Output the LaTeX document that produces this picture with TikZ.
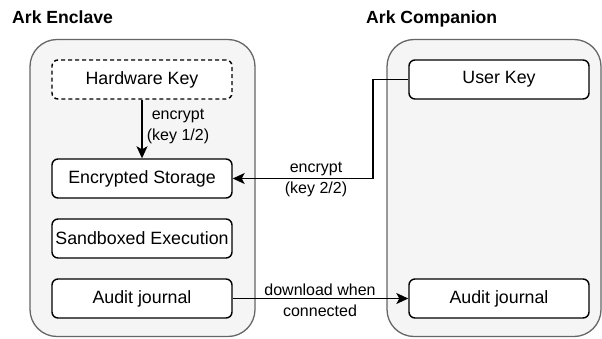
\documentclass[tikz,border=0pt]{standalone}
\usepackage{fontspec}
\setmainfont{Liberation Sans}
\usetikzlibrary{arrows.meta}
\definecolor{contfill}{HTML}{F5F5F5}
\definecolor{contline}{HTML}{666666}
\begin{document}
\begin{tikzpicture}[x=1pt,y=-1pt,
  every node/.style={font=\fontsize{17.8}{21}\selectfont},
  container/.style={draw=contline, fill=contfill, line width=1.3pt, rounded corners=27pt, inner sep=0pt},
  comp/.style={draw=black, fill=white, line width=1.4pt, rounded corners=6pt, minimum width=180pt, minimum height=39pt, inner sep=0pt},
  title/.style={font=\bfseries\fontsize{17.6}{21}\selectfont, anchor=base west, inner sep=0pt},
  conn/.style={line width=1.4pt, -{Stealth[length=12pt,width=11pt,inset=3pt]}},
  lbl/.style={align=center, inner sep=0pt, font=\fontsize{16}{20.8}\selectfont}
]
\useasboundingbox (0,0) rectangle (602,338);
% containers
\node[container, minimum width=225pt, minimum height=297pt] (enc) at (142.5,188) {};
\node[container, minimum width=214pt, minimum height=297pt] (comp) at (494,188) {};
% titles
\node[title] (t1) at (12,23.3) {Ark Enclave};
\node[title] (t2) at (366,23.3) {Ark Companion};
% enclave components
\node[comp, dashed, dash pattern=on 4pt off 3pt] (hw) at (142,79.5) {Hardware Key};
\node[comp] (es) at (142,178.5) {Encrypted Storage};
\node[comp] (sb) at (142,238.5) {Sandboxed Execution};
\node[comp] (aj1) at (142,298.5) {Audit journal};
% companion components
\node[comp] (uk) at (499,79.5) {User Key};
\node[comp] (aj2) at (499,298.5) {Audit journal};
% connectors
\coordinate (c1) at (373,79.5);
\coordinate (c2) at (373,178.5);
\draw[conn] (hw) -- (es);
\draw[conn] (uk.west) -- (c1) -- (c2) -- (es.east);
\draw[conn] (aj1) -- (aj2);
% labels
\node[lbl] (l1) at (178,126.5) {encrypt\\(key 1/2)};
\node[lbl] (l2) at (316,179.5) {encrypt\\(key 2/2)};
\node[lbl] (l3) at (320,300.5) {download when\\connected};
\end{tikzpicture}
\end{document}
